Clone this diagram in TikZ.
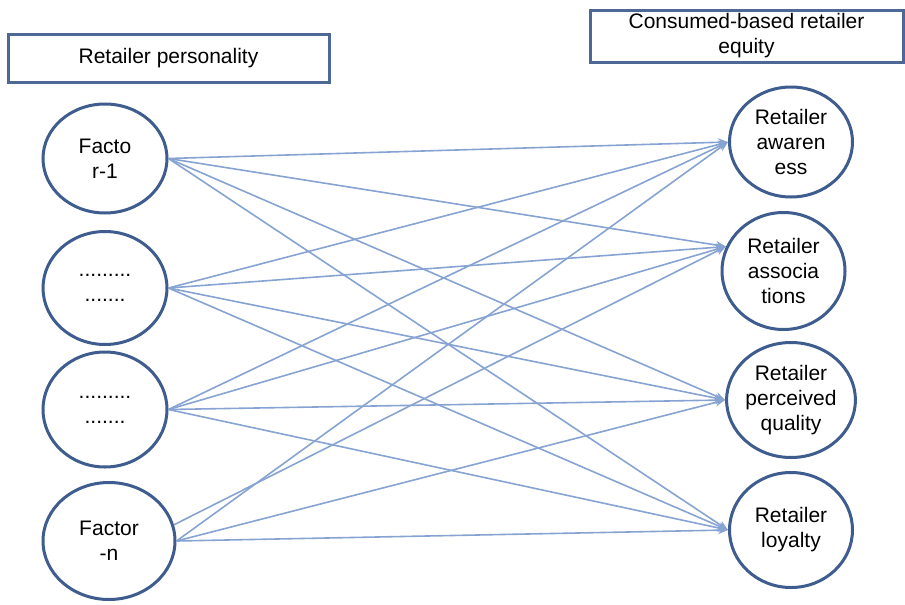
\documentclass[tikz,border=0pt]{standalone}
\usepackage{fontspec}
\setmainfont{Liberation Sans}
\usetikzlibrary{shapes.geometric,arrows.meta}
\definecolor{edgeblue}{RGB}{62,92,142}
\definecolor{boxblue}{RGB}{78,104,150}
\definecolor{linkblue}{RGB}{135,163,210}
\begin{document}
\begin{tikzpicture}[x=1pt,y=-1pt,
  every node/.style={font=\fontsize{21}{25}\selectfont, align=center, inner sep=0pt},
  circ/.style={ellipse, draw=edgeblue, line width=3pt, fill=white},
  hbox/.style={rectangle, draw=boxblue, line width=3pt},
  link/.style={draw=linkblue, line width=1.6pt, -{Stealth[length=10pt,width=8pt]}}]
\useasboundingbox (0,0) rectangle (905,605);
% boxes
\node[hbox, minimum width=321pt, minimum height=48pt] (bl) at (168.5,58) {Retailer personality};
\node[hbox, minimum width=313pt, minimum height=52pt] (br) at (746.5,36) {Consumed-based retailer\\equity};
% left circles
\node[circ, minimum width=124pt, minimum height=109pt] (l1) at (105,158.5) {Facto\\r-1};
\node[circ, minimum width=124pt, minimum height=113pt] (l2) at (105,288) {.........\\.......};
\node[circ, minimum width=124pt, minimum height=115pt] (l3) at (105,409.5) {.........\\.......};
\node[circ, minimum width=132pt, minimum height=117pt] (l4) at (109,541) {Factor\\-n};
% right circles
\node[circ, minimum width=123pt, minimum height=110pt] (r1) at (791,142) {Retailer\\awaren\\ess};
\node[circ, minimum width=123pt, minimum height=117pt] (r2) at (783.5,271) {Retailer\\associa\\tions};
\node[circ, minimum width=123pt, minimum height=115pt] (r3) at (791,400) {Retailer\\perceived\\quality};
\node[circ, minimum width=123pt, minimum height=115pt] (r4) at (791,530) {Retailer\\loyalty};
% links
\foreach \s in {l1,l2,l3,l4}{
  \path[link] (\s.east) -- (r1.west);
  \path[link] (\s.east) -- (r3.west);
  \path[link] (\s.east) -- (r4.west);
}
\path[link] (l1.east) -- (r2.157);
\path[link] (l2.east) -- (r2.157);
\path[link] (l3.east) -- (r2.157);
\path[link] (l4.14) -- (r2.157);
\end{tikzpicture}
\end{document}
